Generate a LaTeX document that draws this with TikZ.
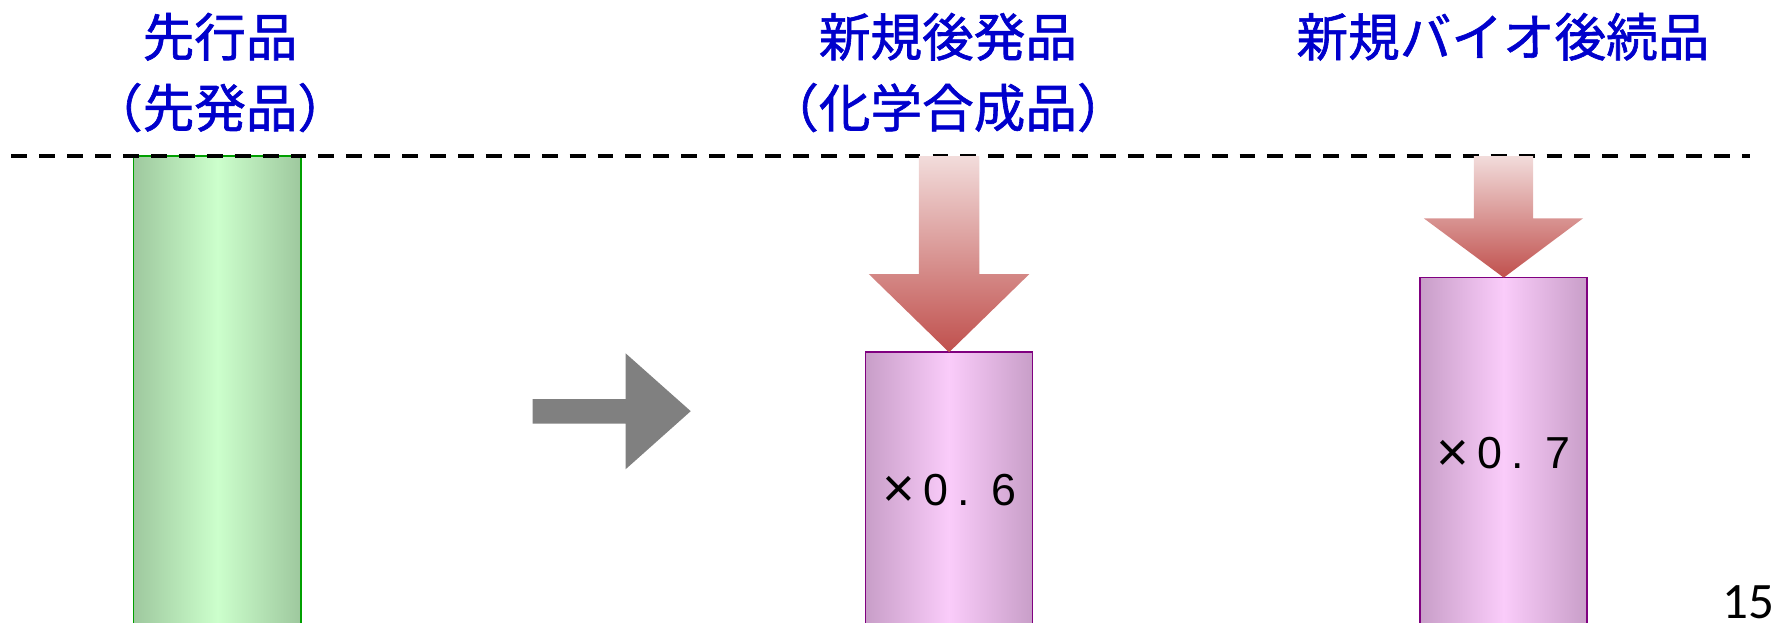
\documentclass[tikz,border=0pt]{standalone}
\usepackage{fontspec}
\usepackage{graphicx}
\newfontfamily\jpfont[BoldFont={Noto Sans CJK JP},BoldFeatures={FakeBold=1.2}]{Noto Sans CJK JP}
\newfontfamily\arialfont{Liberation Sans}
\newfontfamily\calfont{Carlito}
\definecolor{headblue}{RGB}{0,0,204}
\definecolor{gedge}{RGB}{158,200,158}
\definecolor{gmid}{RGB}{204,255,204}
\definecolor{gborder}{RGB}{0,160,0}
\definecolor{pedge}{RGB}{200,158,200}
\definecolor{pmid}{RGB}{250,204,250}
\definecolor{pborder}{RGB}{128,0,128}
\definecolor{atop}{RGB}{242,220,219}
\definecolor{abot}{RGB}{192,80,77}
\definecolor{arrgray}{RGB}{128,128,128}
\newcommand{\bigtimes}{\raisebox{-2.5pt}{\scalebox{1.25}{×}}}
\tikzset{
  heading/.style={anchor=base, inner sep=0pt, text=headblue, font=\jpfont\bfseries\fontsize{45.5}{50}\selectfont},
  gbarbox/.style={draw=gborder, line width=1.5pt, left color=gedge, right color=gedge, middle color=gmid,
     minimum width=147.8pt, anchor=north, inner sep=0pt, outer sep=0pt},
  pbarbox/.style={draw=pborder, line width=1.5pt, left color=pedge, right color=pedge, middle color=pmid,
     minimum width=147.3pt, anchor=north, inner sep=0pt, outer sep=0pt},
  multlabel/.style={anchor=base west, inner sep=0pt, font=\arialfont\fontsize{39.5}{42}\selectfont},
  dashline/.style={line width=3.4pt, dash pattern=on 14pt off 10.6pt},
  redarrow/.style={top color=atop, bottom color=abot},
  grayarrow/.style={fill=arrgray}
}
\begin{document}
\begin{tikzpicture}[x=1pt,y=1pt]
\useasboundingbox (0,0) rectangle (1568,-549);
\clip (0,0) rectangle (1568,-549);
% bars
\node[gbarbox, minimum height=420pt] (gb) at (191.6,-137.2) {};
\node[pbarbox, minimum height=245pt] (pb1) at (836.5,-310.5) {};
\node[pbarbox, minimum height=310pt] (pb2) at (1325.4,-244.7) {};
% dashed line
\draw[dashline] (10.1,-137.2) coordinate (dl) -- (1542.4,-137.2) coordinate (dr);
% red arrows
\shade[redarrow] (pb1.north) -- (907.3,-241.5) -- (863.2,-241.5) -- (863.2,-137.5)
   -- (809.8,-137.5) -- (809.8,-241.5) -- (765.7,-241.5) -- cycle;
\shade[redarrow] (pb2.north) -- (1395.3,-192.4) -- (1351.2,-192.4) -- (1351.2,-137.5)
   -- (1299.0,-137.5) -- (1299.0,-192.4) -- (1254.9,-192.4) -- cycle;
% gray arrow
\fill[grayarrow] (469.5,-351.7) -- (551.4,-351.7) -- (551.4,-311.4) -- (608.8,-362.4)
   -- (551.4,-413.6) -- (551.4,-373.4) -- (469.5,-373.4) -- cycle;
% headings
\node[heading] (h1a) at (194,-49.6) {先行品};
\node[heading] (h1b) at (194,-112.1) {（先発品）};
\node[heading] (h2a) at (835.5,-49.6) {新規後発品};
\node[heading] (h2b) at (835.5,-112.1) {（化学合成品）};
\node[heading] (h3a) at (1324.7,-49.6) {新規バイオ後続品};
% factors
\node[multlabel] (m1) at (777.5,-445.1) {\bigtimes\hspace{7.7pt}0\hspace{8.1pt}.\hspace{19pt}6};
\node[multlabel] (m2) at (1265.8,-412.8) {\bigtimes\hspace{7.7pt}0\hspace{8.1pt}.\hspace{19pt}7};
% page number
\node[anchor=base east, inner sep=0pt, font=\calfont\fontsize{45}{48}\selectfont] (pn) at (1564,-545) {15};
\end{tikzpicture}
\end{document}
